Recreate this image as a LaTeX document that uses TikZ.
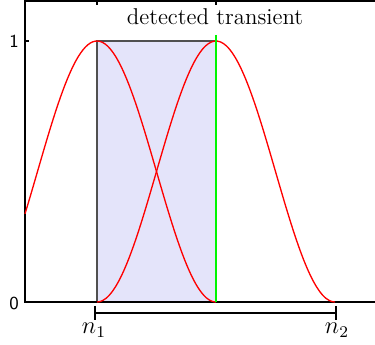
\documentclass[tikz,border=0pt]{standalone}
\usepackage{xcolor}
\usepackage{tikz}
\usetikzlibrary{positioning}
\definecolor{win}{RGB}{255,0,0}
\definecolor{hitgreen}{RGB}{0,245,0}
\definecolor{band}{RGB}{228,228,250}
\definecolor{edge}{RGB}{80,80,80}

\begin{document}
\begin{tikzpicture}[
  x=0.49pt,y=-0.49pt,
  axis/.style={draw=black,line width=0.7pt},
  curve/.style={draw=win,line width=0.65pt,samples=80,smooth},
  tick/.style={font=\sffamily\small,anchor=center},
  nlbl/.style={font=\large,anchor=center},
  brk/.style={draw=black,line width=1pt}
]
\useasboundingbox (0,0) rectangle (375,345);
% transient region
\coordinate (ra) at (97,302);
\coordinate (rb) at (216,41);
\fill[band] (ra) rectangle (rb);
\draw[edge,line width=0.6pt] (97,302) -- (97,41) -- (216,41);

% axes box
\draw[axis] (375,1) -- (25,1) -- (25,302) -- (375,302);
\draw[axis] (97,1) -- (97,5);
\draw[axis] (216,1) -- (216,5);
\draw[axis] (25,41) -- (29,41);

% overlapping windows (phase in degrees)
\draw[curve,domain=-54.45:90] plot ({97+\x/90*119},{302-261*cos(\x)*cos(\x)});
\draw[curve,domain=0:180] plot ({97+\x/90*119},{302-261*sin(\x)*sin(\x)});

% detection instant
\draw[draw=hitgreen,line width=1.2pt] (216,35) -- (216,302);

\node[font=\fontsize{11.2}{13}\selectfont] (title) at (215,17) {detected transient};
\node[tick] (one) at (14,41) {1};
\node[tick] (zero) at (14,303) {0};

% frame span
\coordinate (b1) at (95,313);
\coordinate (b2) at (336,313);
\draw[brk] (b1) -- (b2);
\draw[brk] ([yshift=3.5pt]b1) -- ([yshift=-3.5pt]b1);
\draw[brk] ([yshift=3.5pt]b2) -- ([yshift=-3.5pt]b2);
\node[nlbl] (n1) at (94,330) {$n_1$};
\node[nlbl] (n2) at (337,330) {$n_2$};
\end{tikzpicture}
\end{document}
